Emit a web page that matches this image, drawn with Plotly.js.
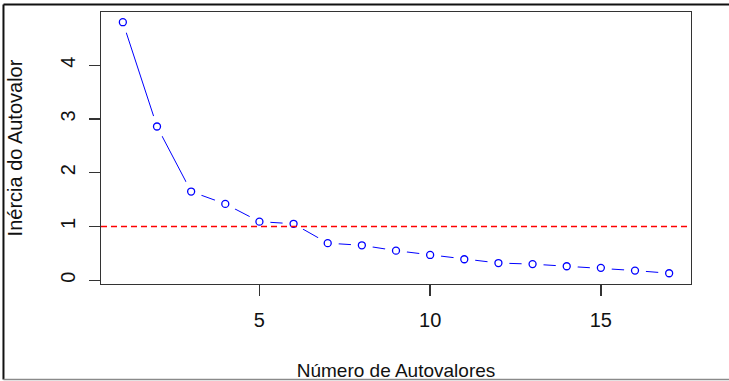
<!DOCTYPE html>
<html>
<head>
<meta charset="utf-8">
<script src="https://cdn.plot.ly/plotly-3.0.1.min.js"></script>
<style>
  html, body { margin: 0; padding: 0; background: #ffffff; }
  #chart { width: 729px; height: 381px; }
</style>
</head>
<body>
<div id="chart"></div>
<script>
// Data
const numeroAutovalores = [1, 2, 3, 4, 5, 6, 7, 8, 9, 10, 11, 12, 13, 14, 15, 16, 17];
const inerciaAutovalor = [4.80, 2.86, 1.65, 1.42, 1.09, 1.05, 0.69, 0.65, 0.55, 0.47, 0.39, 0.32, 0.30, 0.26, 0.23, 0.18, 0.13];
const xTicks = [5, 10, 15];
const yTicks = [0, 1, 2, 3, 4];
const referencia = 1; // Kaiser criterion line
const xTitle = "Número de Autovalores";
const yTitle = "Inércia do Autovalor";

const FONT = "Liberation Sans, Arial, sans-serif";
const BLUE = "#0000ff";
const INK = "#111111";

const traces = [
  { // connecting line + white discs that cut it around each point (R type = "b")
    x: numeroAutovalores, y: inerciaAutovalor,
    type: "scatter", mode: "lines+markers",
    line: { color: BLUE, width: 1 },
    marker: { symbol: "circle", size: 22, color: "#ffffff", line: { width: 0 } },
    showlegend: false
  },
  { // open circles
    x: numeroAutovalores, y: inerciaAutovalor,
    type: "scatter", mode: "markers",
    marker: { symbol: "circle-open", size: 7, color: BLUE, line: { color: BLUE, width: 1.3 } },
    showlegend: false
  }
];

const layout = {
  width: 729, height: 381,
  margin: { l: 101, r: 38, t: 12, b: 97, pad: 0 },
  paper_bgcolor: "#ffffff", plot_bgcolor: "#ffffff",
  font: { family: FONT, size: 19, color: INK },
  showlegend: false,
  xaxis: {
    range: [0.36, 17.64], autorange: false,
    tickmode: "array", tickvals: xTicks, ticktext: xTicks.map(String),
    ticks: "outside", ticklen: 11, tickwidth: 1.3, tickcolor: "#333333",
    ticklabelstandoff: 7,
    showline: true, mirror: true, linecolor: "#333333", linewidth: 1.3,
    showgrid: false, zeroline: false,
    tickfont: { family: FONT, size: 20, color: INK },
    title: { text: xTitle, font: { family: FONT, size: 19, color: INK }, standoff: 34 },
    automargin: false
  },
  yaxis: {
    range: [-0.07, 4.99], autorange: false,
    tickmode: "array", tickvals: yTicks, ticktext: yTicks.map(String),
    ticks: "outside", ticklen: 11, tickwidth: 1.3, tickcolor: "#333333",
    tickangle: -90, ticklabelstandoff: 6,
    showline: true, mirror: true, linecolor: "#333333", linewidth: 1.3,
    showgrid: false, zeroline: false,
    tickfont: { family: FONT, size: 20, color: INK },
    title: { text: yTitle, font: { family: FONT, size: 20, color: INK }, standoff: 28 },
    automargin: false
  },
  shapes: [
    { type: "line", xref: "paper", x0: 0, x1: 1, yref: "y", y0: referencia, y1: referencia,
      line: { color: "#ff0000", width: 1.3, dash: "6px,4px" }, layer: "above" },
    // outer frame of the screenshot
    { type: "line", xref: "paper", yref: "paper", x0: -0.1653, x1: 1.07, y0: 1.0276, y1: 1.0276,
      line: { color: INK, width: 2 }, layer: "above" },
    { type: "line", xref: "paper", yref: "paper", x0: -0.1653, x1: -0.1653, y0: 1.0276, y1: -0.351,
      line: { color: INK, width: 2 }, layer: "above" },
    { type: "line", xref: "paper", yref: "paper", x0: -0.1653, x1: 1.07, y0: -0.351, y1: -0.351,
      line: { color: "#8a8a8a", width: 1.5 }, layer: "above" }
  ]
};

Plotly.newPlot("chart", traces, layout, { displayModeBar: false, staticPlot: true });
</script>
</body>
</html>
